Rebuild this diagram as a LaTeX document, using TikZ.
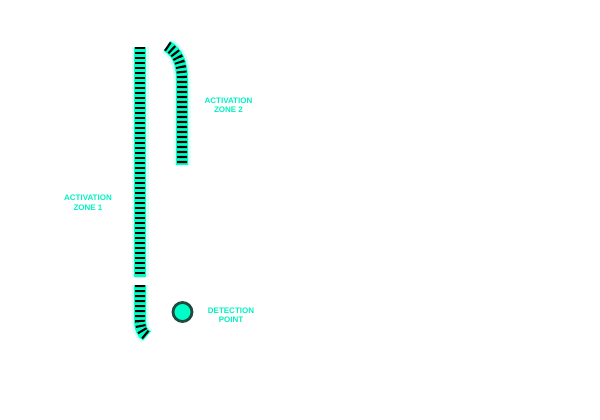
\documentclass[tikz,border=0pt]{standalone}
\usepackage{fontspec}
\setmainfont{Liberation Sans}
\definecolor{trackcyan}{HTML}{00FFC8}
\definecolor{halo}{HTML}{D8FFF6}
\definecolor{labelcyan}{HTML}{00F0C0}
\definecolor{ringdark}{HTML}{1E4A40}
\begin{document}
\begin{tikzpicture}[x=1pt,y=-1pt,
  halotrack/.style={draw=halo,line width=17pt},
  basetrack/.style={draw=trackcyan,line width=12pt},
  ties/.style={draw=black,line width=10pt,dash pattern=on 2.1pt off 2.9pt},
  zonelabel/.style={text=labelcyan,font=\bfseries\fontsize{8}{9.5}\selectfont,align=center,inner sep=0pt}]
\useasboundingbox (0,0) rectangle (600,420);
\def\trackA{(140,47) -- (140,277)}
\def\trackB{(140,285) -- (140,318) .. controls (140,328) and (142,333) .. (147,336)}
\def\trackC{(167,46) .. controls (177,52) and (182,62) .. (182,80) -- (182,165)}
\foreach \t in {\trackA,\trackB,\trackC}{
  \path[halotrack] \t;
}
\foreach \t in {\trackA,\trackB,\trackC}{
  \path[basetrack] \t;
  \path[ties] \t;
}
\node[circle,draw=ringdark,line width=2.8pt,fill=trackcyan,minimum size=19pt,inner sep=0pt] (dp) at (182.5,312) {};
\node[zonelabel] (z1) at (88,202.5) {ACTIVATION\\ZONE 1};
\node[zonelabel] (z2) at (228.5,105) {ACTIVATION\\ZONE 2};
\node[zonelabel] (dl) at (231,315) {DETECTION\\POINT};
\end{tikzpicture}
\end{document}
